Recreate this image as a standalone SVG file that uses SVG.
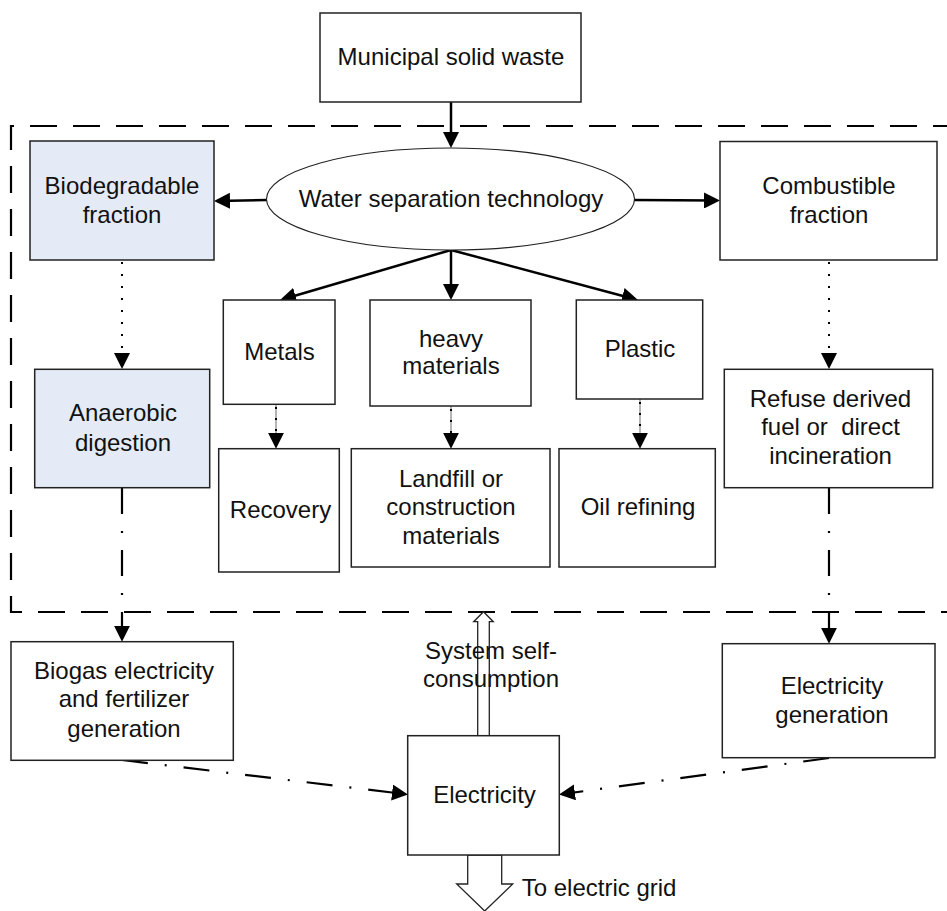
<svg xmlns="http://www.w3.org/2000/svg" width="947" height="911" viewBox="0 0 947 911">
<style>
text{font-family:"Liberation Sans",Arial,sans-serif;font-size:24px;fill:#111;text-anchor:middle}
.box{fill:#fff;stroke:#222;stroke-width:1.5}
.bio{fill:#e4ebf6;stroke:#222;stroke-width:1.5}
.solid{fill:none;stroke:#000;stroke-width:2.5}
.dot{fill:none;stroke:#000;stroke-width:2;stroke-dasharray:2 10}
.thin{fill:none;stroke:#444;stroke-width:0.8}
.sdot{fill:none;stroke:#000;stroke-width:2;stroke-dasharray:2 9}
.dd{fill:none;stroke:#000;stroke-width:2.2;stroke-dasharray:26 17 2 17}
.hollow{fill:#fff;stroke:#222;stroke-width:1.3}
</style>
<defs>
<marker id="ah" viewBox="0 0 16 16" markerWidth="16" markerHeight="16" refX="13" refY="8" orient="auto" markerUnits="userSpaceOnUse">
<path d="M0,0 L16,8 L0,16 z" fill="#000"/>
</marker>
</defs>
<path d="M960 126 H11 V612 H960" fill="none" stroke="#000" stroke-width="2.2" stroke-dasharray="27 16"/>
<g id="connectors">
<line class="solid" x1="451" y1="102" x2="451" y2="145" marker-end="url(#ah)"/>
<line class="solid" x1="267" y1="200" x2="217" y2="201" marker-end="url(#ah)"/>
<line class="solid" x1="634" y1="200" x2="717" y2="200.5" marker-end="url(#ah)"/>
<line class="solid" x1="451" y1="250" x2="282.9" y2="299.2" marker-end="url(#ah)"/>
<line class="solid" x1="451" y1="250" x2="451" y2="297" marker-end="url(#ah)"/>
<line class="solid" x1="451" y1="250" x2="635.1" y2="299.2" marker-end="url(#ah)"/>
<line class="dot" x1="122" y1="262" x2="122" y2="366" marker-end="url(#ah)"/>
<line class="dot" x1="829" y1="262" x2="829" y2="366" marker-end="url(#ah)"/>
<line class="thin" x1="276" y1="404" x2="276" y2="440"/>
<line class="sdot" x1="276" y1="407" x2="276" y2="445.7" marker-end="url(#ah)"/>
<line class="thin" x1="451" y1="406" x2="451" y2="440"/>
<line class="sdot" x1="451" y1="409" x2="451" y2="445.7" marker-end="url(#ah)"/>
<line class="thin" x1="640" y1="399" x2="640" y2="440"/>
<line class="sdot" x1="640" y1="402" x2="640" y2="445.7" marker-end="url(#ah)"/>
<line class="dd" x1="122" y1="488" x2="122" y2="638.7" marker-end="url(#ah)"/>
<line class="dd" x1="829" y1="488" x2="829" y2="640.7" marker-end="url(#ah)"/>
<line class="dd" x1="122" y1="760" x2="405" y2="794.1" marker-end="url(#ah)"/>
<line class="dd" x1="829" y1="758" x2="562" y2="794.1" marker-end="url(#ah)"/>
<polygon class="hollow" points="477.7,735.7 477.7,621.7 473.7,621.7 483.5,611.7 493.3,621.7 489.3,621.7 489.3,735.7"/>
<polygon class="hollow" points="467.7,855 467.7,884 456.7,884 484.7,911 512.7,884 501.7,884 501.7,855"/>
</g>
<g id="msw"><rect class="box" x="320" y="13" width="261" height="89"/><text x="451" y="65">Municipal solid waste</text></g>
<g id="wst"><ellipse cx="450.5" cy="199" rx="184" ry="51" fill="#fff" stroke="#222" stroke-width="1.1"/><text x="451" y="207">Water separation technology</text></g>
<g id="bio"><rect class="bio" x="30" y="141" width="184" height="119"/><text x="122" y="194">Biodegradable</text><text x="122" y="222.7">fraction</text></g>
<g id="comb"><rect class="box" x="720" y="141.5" width="217" height="118.5"/><text x="829" y="194">Combustible</text><text x="829" y="222.7">fraction</text></g>
<g id="metals"><rect class="box" x="223.3" y="300" width="111.7" height="104.3"/><text x="279.5" y="360">Metals</text></g>
<g id="heavy"><rect class="box" x="370" y="300" width="161" height="106"/><text x="451" y="346.7">heavy</text><text x="451" y="374.3">materials</text></g>
<g id="plastic"><rect class="box" x="576.3" y="300" width="126.4" height="99"/><text x="640" y="357.3">Plastic</text></g>
<g id="recovery"><rect class="box" x="218.7" y="448.7" width="120.6" height="123.3"/><text x="280.5" y="518.3">Recovery</text></g>
<g id="landfill"><rect class="box" x="351.3" y="448.7" width="198.7" height="118.3"/><text x="451" y="486.7">Landfill or</text><text x="451" y="515">construction</text><text x="451" y="544">materials</text></g>
<g id="oil"><rect class="box" x="559" y="448.7" width="156.3" height="118.3"/><text x="638" y="515">Oil refining</text></g>
<g id="anaerobic"><rect class="bio" x="34.7" y="369.3" width="175" height="118.4"/><text x="123" y="420.7">Anaerobic</text><text x="123" y="450.7">digestion</text></g>
<g id="refuse"><rect class="box" x="724.3" y="369.3" width="208.4" height="118.4"/><text x="830.5" y="406.7">Refuse derived</text><text x="830.5" y="435" xml:space="preserve">fuel or  direct</text><text x="830.5" y="464.3">incineration</text></g>
<g id="biogas"><rect class="box" x="11" y="641.7" width="222.3" height="118.6"/><text x="124" y="679">Biogas electricity</text><text x="124" y="707.3">and fertilizer</text><text x="124" y="737.3">generation</text></g>
<g id="elecgen"><rect class="box" x="722.3" y="643.7" width="212.7" height="114"/><text x="832" y="694">Electricity</text><text x="832" y="722.7">generation</text></g>
<g id="electricity"><rect class="box" x="407.7" y="735.7" width="151.6" height="119.3"/><text x="484.5" y="802.7">Electricity</text></g>
<g id="labels"><text x="491" y="659.3">System self-</text><text x="491" y="687.3">consumption</text><text x="521.7" y="896" style="text-anchor:start">To electric grid</text></g>
</svg>
